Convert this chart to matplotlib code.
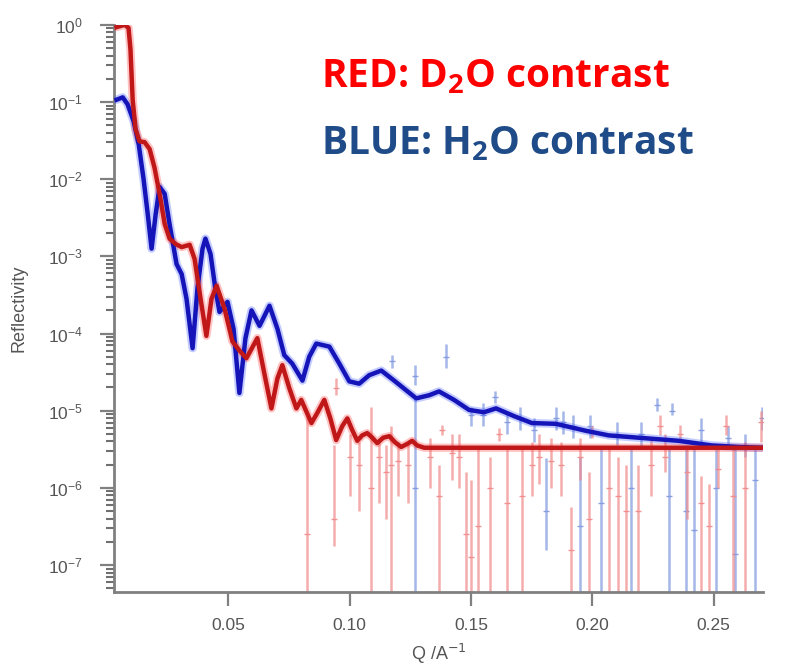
import numpy as np
import matplotlib.pyplot as plt

# fitted curves: Q (1/A) and log10(reflectivity)
blue_q = [0.0039, 0.0064, 0.0084, 0.0109, 0.0130, 0.0150, 0.0167, 0.0183, 0.0200, 0.0216,
          0.0237, 0.0257, 0.0286, 0.0307, 0.0327, 0.0352, 0.0372, 0.0393, 0.0405, 0.0426,
          0.0446, 0.0463, 0.0496, 0.0521, 0.0545, 0.0570, 0.0595, 0.0628, 0.0669, 0.0702,
          0.0730, 0.0763, 0.0805, 0.0833, 0.0862, 0.0916, 0.0957, 0.0998, 0.1039, 0.1080,
          0.1130, 0.1183, 0.1274, 0.1327, 0.1368, 0.1430, 0.1492, 0.1553, 0.1603, 0.1677,
          0.1751, 0.1850, 0.1973, 0.2068, 0.2191, 0.2356, 0.2492, 0.2603, 0.2698]
blue_logr = [-0.97, -0.94, -1.03, -1.25, -1.55, -2.00, -2.45, -2.90, -2.45, -2.10,
             -2.19, -2.58, -3.10, -3.23, -3.55, -4.19, -3.42, -2.90, -2.77, -2.97,
             -3.42, -3.72, -3.59, -3.94, -4.77, -4.06, -3.70, -3.90, -3.64, -3.94,
             -4.28, -4.39, -4.61, -4.30, -4.13, -4.17, -4.39, -4.62, -4.65, -4.54,
             -4.48, -4.61, -4.84, -4.80, -4.75, -4.86, -4.99, -5.02, -4.97, -5.07,
             -5.16, -5.17, -5.26, -5.32, -5.35, -5.39, -5.45, -5.47, -5.48]

red_q = [0.0039, 0.0072, 0.0088, 0.0096, 0.0105, 0.0117, 0.0133, 0.0154, 0.0175, 0.0195,
         0.0216, 0.0237, 0.0257, 0.0282, 0.0307, 0.0340, 0.0360, 0.0385, 0.0409, 0.0430,
         0.0451, 0.0484, 0.0516, 0.0545, 0.0574, 0.0619, 0.0648, 0.0677, 0.0702, 0.0722,
         0.0751, 0.0780, 0.0800, 0.0842, 0.0866, 0.0895, 0.0920, 0.0944, 0.0969, 0.0990,
         0.1010, 0.1031, 0.1051, 0.1072, 0.1093, 0.1113, 0.1138, 0.1163, 0.1187, 0.1212,
         0.1237, 0.1257, 0.1278, 0.1307, 0.2698]
red_logr = [-0.03, 0.00, -0.04, -0.32, -0.97, -1.35, -1.51, -1.52, -1.61, -1.85,
            -2.19, -2.58, -2.77, -2.84, -2.88, -2.85, -3.03, -3.55, -4.03, -3.55,
            -3.38, -3.68, -4.10, -4.22, -4.32, -4.06, -4.52, -4.97, -4.58, -4.41,
            -4.71, -4.97, -4.86, -5.16, -5.03, -4.86, -5.10, -5.38, -5.20, -5.10,
            -5.25, -5.39, -5.32, -5.29, -5.35, -5.42, -5.35, -5.33, -5.41, -5.47,
            -5.43, -5.39, -5.45, -5.48, -5.48]

# measured points with error bars: Q, log10 of point, lower end, upper end
# (-9 means the lower end drops below the axis)
red_eq = [0.0825, 0.0936, 0.0944, 0.1000, 0.1040, 0.1088, 0.1120, 0.1150, 0.1170, 0.1200,
          0.1240, 0.1330, 0.1368, 0.1380, 0.1420, 0.1450, 0.1480, 0.1500, 0.1530, 0.1580,
          0.1616, 0.1650, 0.1710, 0.1750, 0.1780, 0.1830, 0.1870, 0.1910, 0.1950, 0.1986,
          0.2000, 0.2070, 0.2105, 0.2138, 0.2190, 0.2240, 0.2280, 0.2300, 0.2360, 0.2390,
          0.2450, 0.2480, 0.2520, 0.2550, 0.2580, 0.2630, 0.2695]
red_ec = [-6.60, -6.40, -4.70, -5.60, -5.70, -6.00, -5.60, -5.80, -5.70, -5.65,
          -5.70, -5.60, -6.10, -5.25, -5.55, -5.60, -6.60, -6.90, -6.50, -6.00,
          -5.30, -6.20, -6.10, -5.70, -5.60, -5.65, -5.70, -6.80, -5.60, -6.40,
          -5.28, -6.00, -6.10, -6.30, -6.30, -5.70, -5.20, -5.60, -5.30, -5.80,
          -6.20, -6.50, -5.75, -5.20, -6.10, -6.00, -5.15]
red_elo = [-9.00, -6.75, -4.80, -6.10, -6.30, -9.00, -6.20, -6.40, -9.00, -6.10,
           -6.20, -6.00, -9.00, -5.32, -5.90, -6.00, -9.00, -9.00, -9.00, -9.00,
           -5.39, -9.00, -9.00, -6.10, -5.95, -6.00, -6.10, -9.00, -5.90, -9.00,
           -5.36, -9.00, -9.00, -9.00, -9.00, -6.10, -5.32, -5.80, -5.39, -6.40,
           -9.00, -9.00, -6.00, -5.32, -9.00, -9.00, -5.40]
red_ehi = [-5.05, -5.45, -4.58, -5.30, -5.40, -4.95, -5.35, -5.45, -5.20, -5.40,
           -5.40, -5.35, -5.70, -5.19, -5.30, -5.30, -5.80, -5.90, -5.50, -5.60,
           -5.23, -5.50, -5.50, -5.40, -5.30, -5.35, -5.40, -6.25, -5.35, -5.80,
           -5.20, -5.50, -5.60, -5.70, -5.70, -5.35, -5.06, -5.30, -5.19, -5.50,
           -5.85, -5.95, -5.50, -5.06, -5.50, -5.40, -5.00]

blue_eq = [0.1175, 0.1268, 0.1270, 0.1397, 0.1500, 0.1550, 0.1600, 0.1650, 0.1700, 0.1760,
           0.1810, 0.1850, 0.1880, 0.1920, 0.1950, 0.1990, 0.2035, 0.2100, 0.2160, 0.2200,
           0.2266, 0.2315, 0.2327, 0.2385, 0.2420, 0.2450, 0.2510, 0.2560, 0.2590, 0.2630,
           0.2670, 0.2700]
blue_ec = [-4.35, -4.55, -6.00, -4.30, -5.05, -5.05, -4.82, -5.15, -5.10, -5.25,
           -6.30, -5.10, -5.15, -5.20, -6.50, -5.20, -6.20, -5.30, -6.00, -5.30,
           -4.92, -6.10, -5.00, -6.30, -6.55, -5.25, -6.00, -5.35, -6.86, -5.45,
           -5.90, -5.10]
blue_elo = [-4.45, -4.67, -9.00, -4.45, -5.20, -5.20, -4.90, -5.30, -5.25, -5.40,
            -6.81, -5.25, -5.30, -5.35, -9.00, -5.35, -9.00, -5.45, -9.00, -5.50,
            -5.00, -9.00, -5.06, -9.00, -9.00, -5.40, -9.00, -5.50, -9.00, -5.60,
            -9.00, -5.25]
blue_ehi = [-4.28, -4.41, -4.84, -4.13, -4.95, -4.90, -4.75, -5.00, -4.95, -5.10,
            -5.61, -4.95, -5.00, -5.05, -5.60, -5.05, -5.50, -5.15, -5.50, -5.15,
            -4.84, -5.50, -4.90, -5.50, -5.50, -5.10, -5.50, -5.20, -5.50, -5.30,
            -5.50, -4.95]

y_bottom = 4.5e-8

plt.rcParams['font.family'] = ['Liberation Sans', 'DejaVu Sans']

fig = plt.figure(figsize=(8.01, 6.71), dpi=100)
ax = fig.add_axes([0.142, 0.118, 0.811, 0.845])


def draw_errors(q, c, lo, hi, color):
    low = np.maximum(10.0 ** np.array(lo), y_bottom)
    ax.vlines(q, low, 10.0 ** np.array(hi), colors=color,
              linewidth=1.8, alpha=0.7, zorder=2)
    ax.plot(q, 10.0 ** np.array(c), '_', color=color, markersize=5, alpha=0.9, zorder=2)


draw_errors(blue_eq, blue_ec, blue_elo, blue_ehi, '#7f98e0')
draw_errors(red_eq, red_ec, red_elo, red_ehi, '#f08a8a')

blue_r = 10.0 ** np.array(blue_logr)
red_r = 10.0 ** np.array(red_logr)

# dense data points hug the fits, so draw them as a soft band
ax.plot(blue_q, blue_r, color='#3a55ff', lw=6, alpha=0.3, solid_capstyle='round',
        solid_joinstyle='round', zorder=3)
ax.plot(red_q, red_r, color='#ff3a3a', lw=6, alpha=0.3, solid_capstyle='round',
        solid_joinstyle='round', zorder=3)
ax.plot(blue_q, blue_r, color='#1414b8', lw=3.2, solid_joinstyle='round', zorder=4)
ax.plot(red_q, red_r, color='#c01818', lw=3.2, solid_joinstyle='round', zorder=5)

ax.set_yscale('log')
ax.set_xlim(0.0027, 0.2705)
ax.set_ylim(y_bottom, 1.0)
ax.set_xticks([0.05, 0.10, 0.15, 0.20, 0.25])
ax.set_xticklabels(['0.05', '0.10', '0.15', '0.20', '0.25'])
ax.set_yticks([10.0 ** -k for k in range(8)])
minor = [m * 10.0 ** -k for k in range(1, 9) for m in range(2, 10)]
ax.set_yticks([v for v in minor if v > y_bottom], minor=True)

for side in ['top', 'right']:
    ax.spines[side].set_visible(False)
for side in ['left', 'bottom']:
    ax.spines[side].set_color('#808080')
    ax.spines[side].set_linewidth(2)

ax.tick_params(axis='both', which='major', direction='out', color='#808080', width=1.6,
               length=10, labelsize=12.5, labelcolor='#555555')
ax.tick_params(axis='y', which='major', pad=12)
ax.tick_params(axis='x', which='major', pad=9)
ax.tick_params(axis='y', which='minor', direction='out', color='#707070', width=1.5,
               length=6, labelleft=False)
ax.tick_params(axis='x', which='minor', bottom=False)

ax.set_ylabel('Reflectivity', fontsize=13, color='#555555')
ax.yaxis.set_label_coords(-0.132, 0.5)
ax.set_xlabel('Q /A$^{-1}$', fontsize=13, color='#555555', labelpad=6)

fig.text(0.401, 0.870, r'RED: D$_{\mathdefault{2}}$O contrast', color='#ff0000',
         fontsize=28, fontweight='bold', family=['Open Sans', 'DejaVu Sans'], va='baseline')
fig.text(0.401, 0.769, r'BLUE: H$_{\mathdefault{2}}$O contrast', color='#1f4c88',
         fontsize=28, fontweight='bold', family=['Open Sans', 'DejaVu Sans'], va='baseline')

fig.savefig('out.png', dpi=100)
